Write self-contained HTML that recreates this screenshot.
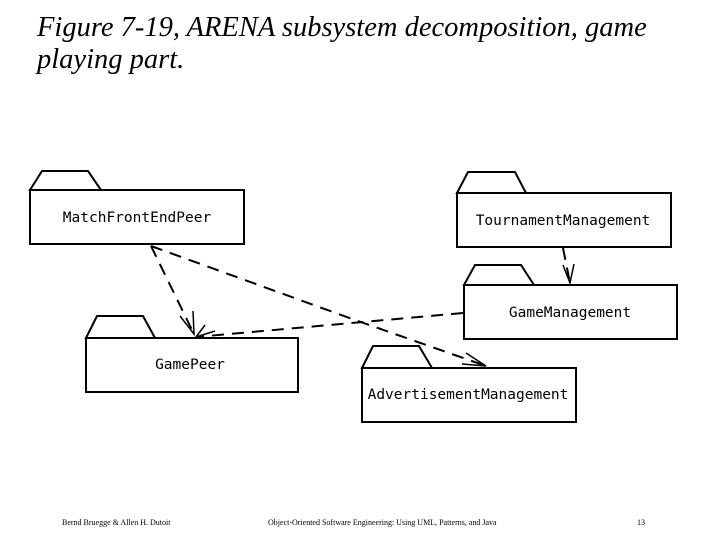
<!DOCTYPE html>
<html><head><style>
body{margin:0;width:720px;height:540px;background:#fff;overflow:hidden;position:relative}
.t{position:absolute;left:37px;top:12px;font:italic 28.5px/32px "Liberation Serif",serif;color:#000}
.f{position:absolute;top:518px;font:8px "Liberation Serif",serif;color:#000;white-space:nowrap}
</style></head><body>
<div class="t">Figure 7-19, ARENA subsystem decomposition, game<br>playing part.</div>
<svg width="720" height="540" style="position:absolute;left:0;top:0">
<g fill="#fff" stroke="#000" stroke-width="2">
<path d="M30 190 L42 171 L88 171 L101 190Z"/><rect x="30" y="190" width="214" height="54"/>
<path d="M86 338 L97 316 L143 316 L155 338Z"/><rect x="86" y="338" width="212" height="54"/>
<path d="M457 193 L468 172 L515 172 L526 193Z"/><rect x="457" y="193" width="214" height="54"/>
<path d="M464 285 L475 265 L521 265 L534 285Z"/><rect x="464" y="285" width="213" height="54"/>
<path d="M362 368 L373 346 L419 346 L432 368Z"/><rect x="362" y="368" width="214" height="54"/>
</g>
<g font-family="DejaVu Sans Mono, monospace" font-size="14.5" text-anchor="middle" fill="#000">
<text x="137" y="222">MatchFrontEndPeer</text>
<text x="190" y="369">GamePeer</text>
<text x="563" y="225">TournamentManagement</text>
<text x="570" y="317">GameManagement</text>
<text x="468" y="399">AdvertisementManagement</text>
</g>
<g stroke="#000" stroke-width="2" fill="none" stroke-dasharray="12,8">
<path d="M151 246 L194 334"/>
<path d="M151 246 L355 320 L486 366"/>
<path d="M463 313 L196 337"/>
<path d="M563 248 L570 283"/>
</g>
<g stroke="#000" stroke-width="1.5" fill="none">
<path d="M180 316 L194 334 L193 311"/>
<path d="M205 325 L196 337 L215 331"/>
<path d="M466 353 L486 366 L462 364"/>
<path d="M563 265 L570 283 L574 264"/>
</g>
</svg>
<div class="f" style="left:62px">Bernd Bruegge &amp; Allen H. Dutoit</div>
<div class="f" style="left:268px">Object-Oriented Software Engineering: Using UML, Patterns, and Java</div>
<div class="f" style="left:637px">13</div>
</body></html>
